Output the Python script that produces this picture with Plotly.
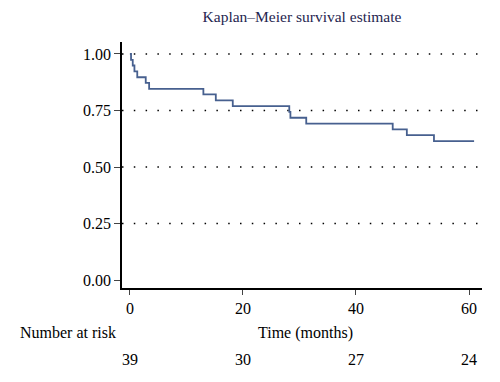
import plotly.graph_objects as go

# Kaplan-Meier step data (months, survival probability)
times = [0, 0.2, 0.5, 0.8, 1.3, 2.8, 3.4, 13.0, 15.2, 18.2, 28.2, 28.4, 31.2, 46.5, 49.0, 53.8, 60.9]
surv = [1.000, 0.974, 0.949, 0.923, 0.897, 0.872, 0.846, 0.821, 0.795, 0.769, 0.744, 0.718, 0.692, 0.667, 0.641, 0.615, 0.615]

x_ticks = [0, 20, 40, 60]
y_ticks = [0.00, 0.25, 0.50, 0.75, 1.00]
grid_levels = [0.25, 0.50, 0.75, 1.00]
at_risk = [39, 30, 27, 24]

FONT = "Liberation Serif"
FS = 16
fig = go.Figure()
fig.add_trace(go.Scatter(x=times, y=surv, mode="lines", line=dict(color="#47608f", width=1.8, shape="hv"),
                         showlegend=False, hoverinfo="skip"))

for g in grid_levels:
    fig.add_shape(type="line", xref="paper", yref="y", x0=0, x1=1, y0=g, y1=g,
                  line=dict(color="black", width=1.5, dash="1.5px,10.3px"), layer="below")

fig.update_layout(
    width=500, height=382,
    margin=dict(l=122, r=18, t=42, b=94),
    paper_bgcolor="white", plot_bgcolor="white",
    font=dict(family=FONT, size=FS, color="black"),
    title=dict(text="Kaplan–Meier survival estimate", x=0.604, xanchor="center", y=0.957, yanchor="middle",
               font=dict(family=FONT, size=15.5, color="#25254f")),
    xaxis=dict(range=[-1.4, 62.3], tickvals=x_ticks, ticks="outside", ticklen=5, tickwidth=1.2,
               showline=True, linecolor="black", linewidth=1.5, showgrid=False, zeroline=False,
               tickfont=dict(family=FONT, size=FS)),
    yaxis=dict(range=[-0.035, 1.053], tickvals=y_ticks, tickformat=".2f", ticks="outside", ticklen=6, tickwidth=1.2,
               showline=True, linecolor="black", linewidth=1.5, showgrid=False, zeroline=False,
               tickfont=dict(family=FONT, size=FS)),
)

fig.add_annotation(text="Time (months)", xref="x", yref="paper", x=(x_ticks[0] + x_ticks[-1]) / 2 + 1, y=-0.183,
                   showarrow=False, font=dict(family=FONT, size=FS), xanchor="center", yanchor="middle")
fig.add_annotation(text="Number at risk", xref="paper", yref="paper", x=-0.29, y=-0.18,
                   showarrow=False, font=dict(family=FONT, size=FS), xanchor="left", yanchor="middle")
for t, n in zip(x_ticks, at_risk):
    fig.add_annotation(text=str(n), xref="x", yref="paper", x=t, y=-0.289,
                       showarrow=False, font=dict(family=FONT, size=FS), xanchor="center", yanchor="middle")

fig.write_html("out.html", config={"displayModeBar": False},
               post_script="document.body.style.margin='0px';")
